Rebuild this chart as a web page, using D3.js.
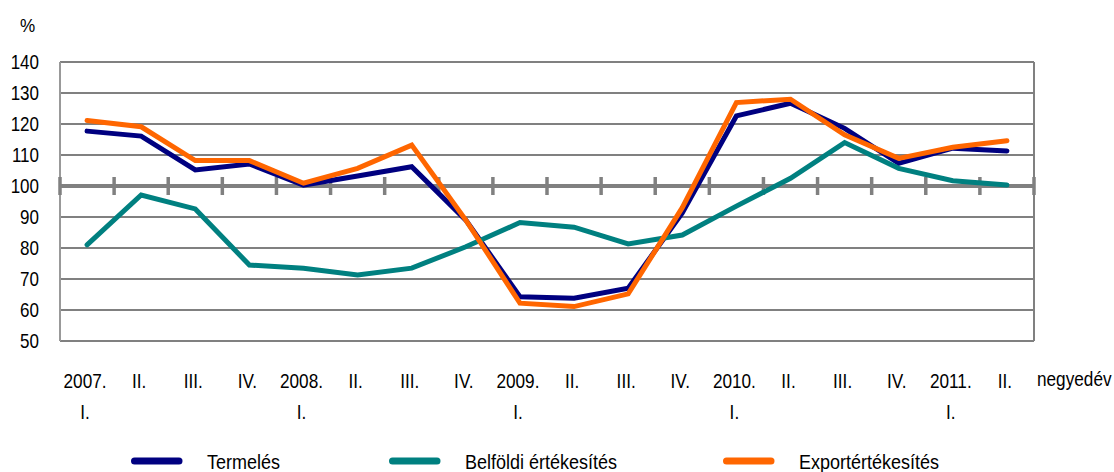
<!DOCTYPE html>
<html>
<head>
<meta charset="utf-8">
<script src="https://cdn.jsdelivr.net/npm/d3@7"></script>
<style>
  body { margin: 0; background: #fff; }
  text { font-family: "Liberation Sans Narrow", "Arial Narrow", "Liberation Sans", sans-serif; fill: #000; }
</style>
</head>
<body>
<svg id="chart" width="1114" height="472"></svg>
<script>
// quarters
const yearLabels = ["2007.", "II.", "III.", "IV.", "2008.", "II.", "III.", "IV.", "2009.", "II.", "III.", "IV.", "2010.", "II.", "III.", "IV.", "2011.", "II."];
const subLabels = ["I.", "", "", "", "I.", "", "", "", "I.", "", "", "", "I.", "", "", "", "I.", ""];
const yTicks = [50, 60, 70, 80, 90, 100, 110, 120, 130, 140];

const termeles = [117.7, 116.1, 105.2, 107.1, 100.3, 103.2, 106.2, 89.0, 64.3, 63.8, 67.0, 91.3, 122.6, 126.7, 118.6, 107.3, 112.2, 111.3];
const belfoldi = [81.0, 97.1, 92.6, 74.5, 73.5, 71.3, 73.5, 80.4, 88.2, 86.7, 81.3, 84.2, 93.5, 102.5, 114.0, 105.7, 101.7, 100.3];
const export_ = [121.1, 119.1, 108.2, 108.2, 100.9, 105.7, 113.2, 89.0, 62.2, 61.1, 65.2, 93.0, 126.9, 128.0, 116.5, 108.9, 112.5, 114.6];

const series = [
  { name: "Termelés", values: termeles, color: "#000080" },
  { name: "Belföldi értékesítés", values: belfoldi, color: "#008080" },
  { name: "Exportértékesítés", values: export_, color: "#FF6600" }
];

const svg = d3.select("#chart");
const pLeft = 60, pRight = 1034, pTop = 62, pBottom = 341;
const grey = "#808080";
const narrow = 0.86; // no narrow font installed, squeeze instead

const x = d3.scaleBand().domain(d3.range(yearLabels.length)).range([pLeft, pRight]);
const y = d3.scaleLinear().domain([50, 140]).range([pBottom, pTop]);

// squeezed text placed at (tx, ty)
function sq(sel, tx, ty, sx) {
  return sel.attr("transform", (d, i) => `translate(${tx(d, i)},${ty(d, i)}) scale(${sx},1)`);
}

// grid lines
svg.append("g").selectAll("line").data(yTicks.filter(d => d !== 100)).join("line")
  .attr("x1", pLeft).attr("x2", pRight)
  .attr("y1", d => y(d)).attr("y2", d => y(d))
  .attr("stroke", grey).attr("stroke-width", 2);

// side borders
svg.append("line").attr("x1", pLeft).attr("x2", pLeft).attr("y1", pTop).attr("y2", pBottom)
  .attr("stroke", "#999").attr("stroke-width", 2);
svg.append("line").attr("x1", pRight).attr("x2", pRight).attr("y1", pTop).attr("y2", pBottom)
  .attr("stroke", grey).attr("stroke-width", 2);

// 100 axis with category ticks
svg.append("line").attr("x1", pLeft).attr("x2", pRight).attr("y1", y(100)).attr("y2", y(100))
  .attr("stroke", grey).attr("stroke-width", 4);
const bounds = d3.range(yearLabels.length + 1).map(i => pLeft + i * x.step());
svg.append("g").selectAll("line").data(bounds).join("line")
  .attr("x1", d => d).attr("x2", d => d)
  .attr("y1", y(100) - 9).attr("y2", y(100) + 9)
  .attr("stroke", grey).attr("stroke-width", 3.5);

// y labels
sq(svg.append("g").selectAll("text").data(yTicks).join("text")
  .attr("text-anchor", "end").attr("font-size", 20)
  .text(d => d), () => 39, d => y(d) + 7, 0.85);
sq(svg.append("text").datum(0).attr("font-size", 19).text("%"), () => 20, () => 32, 0.9);

// x labels
const xl = svg.append("g");
sq(xl.selectAll("text.a").data(yearLabels).join("text").attr("class", "a")
  .attr("text-anchor", "middle").attr("font-size", 20).text(d => d),
  (d, i) => x(i) + x.bandwidth() / 2 - 2, () => 388, narrow);
sq(xl.selectAll("text.b").data(subLabels).join("text").attr("class", "b")
  .attr("text-anchor", "middle").attr("font-size", 20).text(d => d),
  (d, i) => x(i) + x.bandwidth() / 2 - 2, () => 419, narrow);
sq(svg.append("text").datum(0).attr("font-size", 20).text("negyedév"), () => 1037, () => 386, narrow);

// lines
const line = d3.line().x((d, i) => x(i) + x.bandwidth() / 2).y(d => y(d));
svg.append("g").selectAll("path").data(series).join("path")
  .attr("d", d => line(d.values))
  .attr("fill", "none").attr("stroke", d => d.color)
  .attr("stroke-width", 5).attr("stroke-linejoin", "miter").attr("stroke-linecap", "round");

// legend
const legendX = [131, 389, 723];
const lg = svg.append("g").selectAll("g").data(series).join("g")
  .attr("transform", (d, i) => `translate(${legendX[i]},461)`);
lg.append("line").attr("x1", 3.5).attr("x2", 48).attr("y1", 0).attr("y2", 0)
  .attr("stroke", d => d.color).attr("stroke-width", 7).attr("stroke-linecap", "round");
sq(lg.append("text").attr("font-size", 20).text(d => d.name), () => 76, () => 8, 0.9);
</script>
</body>
</html>
